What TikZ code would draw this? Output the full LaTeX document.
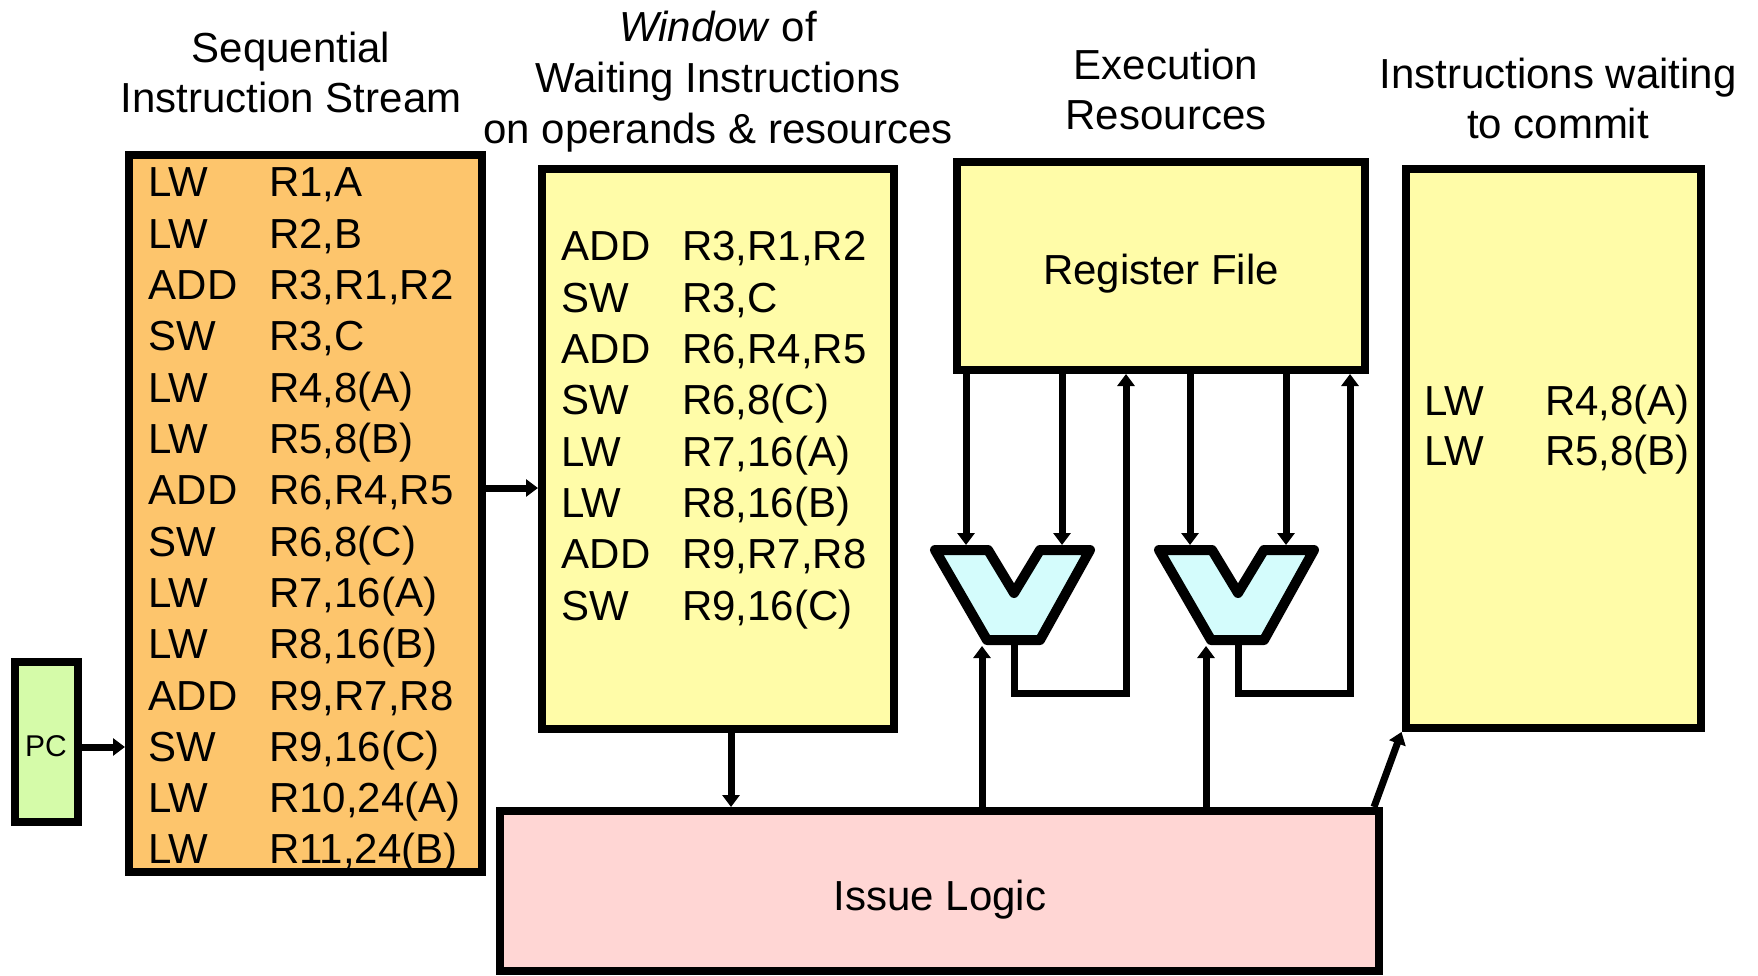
\documentclass[tikz,border=0pt]{standalone}
\usepackage{fontspec}
\setmainfont{Liberation Sans}
\usetikzlibrary{arrows.meta}
\definecolor{streamfill}{HTML}{FDC56C}
\definecolor{winfill}{HTML}{FFFCA8}
\definecolor{pcfill}{HTML}{D5FBA9}
\definecolor{issuefill}{HTML}{FFD6D4}
\definecolor{alufill}{HTML}{D4FCFC}
\begin{document}
\begin{tikzpicture}[x=1pt,y=-1pt,
  font=\fontsize{42}{50}\selectfont,
  box/.style={draw,line width=8pt,inner sep=0pt},
  conn/.style={line width=7pt,-{Triangle[length=12pt,width=17pt]}},
  instr/.style={anchor=base west,inner sep=0pt},
  lbl/.style={anchor=base,inner sep=0pt},
  head/.style={align=center,inner sep=0pt},
  alu/.style={draw,fill=alufill,line width=10pt,line join=round}]
\useasboundingbox (0,0) rectangle (1758,976);

% headings
\node[head] (hstream) at (291,72) {Sequential\\Instruction Stream};
\node[head,font=\fontsize{42}{51}\selectfont] (hwin) at (718,82) {\textit{Window} of\\Waiting Instructions\\on operands \& resources};
\node[head] (hexec) at (1166,89) {Execution\\Resources};
\node[head] (hcommit) at (1558,98) {Instructions waiting\\to commit};

% boxes
\node[box,fill=streamfill,minimum width=353pt,minimum height=717pt] (stream) at (305.5,513.5) {};
\node[box,fill=pcfill,minimum width=63pt,minimum height=160pt] (pc) at (46.5,742) {};
\node[box,fill=winfill,minimum width=352pt,minimum height=560pt] (window) at (718,449) {};
\node[box,fill=winfill,minimum width=408pt,minimum height=208pt] (regfile) at (1161,266) {};
\node[box,fill=winfill,minimum width=295pt,minimum height=559pt] (commit) at (1553,448.5) {};
\node[box,fill=issuefill,minimum width=879pt,minimum height=160pt] (issue) at (939.5,891) {};

% box captions
\node[lbl,font=\fontsize{30}{36}\selectfont] (pclbl) at (46,756) {PC};
\node[lbl] (regfilelbl) at (1161,284) {Register File};
\node[lbl] (issuelbl) at (940,910) {Issue Logic};

% instruction lists
\foreach \m/\o [count=\i] in {LW/{R1,A},LW/{R2,B},ADD/{R3,R1,R2},SW/{R3,C},LW/{R4,8(A)},LW/{R5,8(B)},ADD/{R6,R4,R5},SW/{R6,8(C)},LW/{R7,16(A)},LW/{R8,16(B)},ADD/{R9,R7,R8},SW/{R9,16(C)},LW/{R10,24(A)},LW/{R11,24(B)}}
  \node[instr] (s\i) at (148.5,{197+(\i-1)*51.3}) {\makebox[120.5pt][l]{\m}\o};
\foreach \m/\o [count=\i] in {ADD/{R3,R1,R2},SW/{R3,C},ADD/{R6,R4,R5},SW/{R6,8(C)},LW/{R7,16(A)},LW/{R8,16(B)},ADD/{R9,R7,R8},SW/{R9,16(C)}}
  \node[instr] (w\i) at (561.5,{261+(\i-1)*51.3}) {\makebox[120.5pt][l]{\m}\o};
\foreach \m/\o [count=\i] in {LW/{R4,8(A)},LW/{R5,8(B)}}
  \node[instr] (c\i) at (1424.5,{415+(\i-1)*50.5}) {\makebox[120.5pt][l]{\m}\o};

% functional units
\foreach \d/\n in {0/1,224/2}{
  \begin{scope}[xshift=\d pt]
    \draw[alu] (935,550) -- (988,550) -- (1014,593) -- (1040,550) -- (1090,550)
      -- (1040,640) -- (987,640) -- cycle;
    \coordinate (alua\n) at (966,545);
    \coordinate (alub\n) at (1062,545);
    \coordinate (aluc\n) at (982,646);
    \coordinate (aluo\n) at (1014,645);
    \coordinate (aluw\n) at (1126,693);
  \end{scope}
  \draw[conn] (alua\n |- regfile.south) -- (alua\n);
  \draw[conn] (alub\n |- regfile.south) -- (alub\n);
  \draw[conn] (aluc\n |- issue.north) -- (aluc\n);
  \draw[conn] (aluo\n) |- (aluw\n) -- (aluw\n |- regfile.south);
}

% flow connectors
\draw[conn] ([yshift=-5pt]pc.east) -- ([yshift=-5pt]pc.east -| stream.west);
\draw[conn] ([yshift=25.5pt]stream.east) -- ([yshift=25.5pt]stream.east -| window.west);
\draw[conn] ([xshift=13pt]window.south) -- ([xshift=13pt]window.south |- issue.north);
\draw[conn] ([xshift=-9pt]issue.north east) -- (commit.south west);
\end{tikzpicture}
\end{document}
